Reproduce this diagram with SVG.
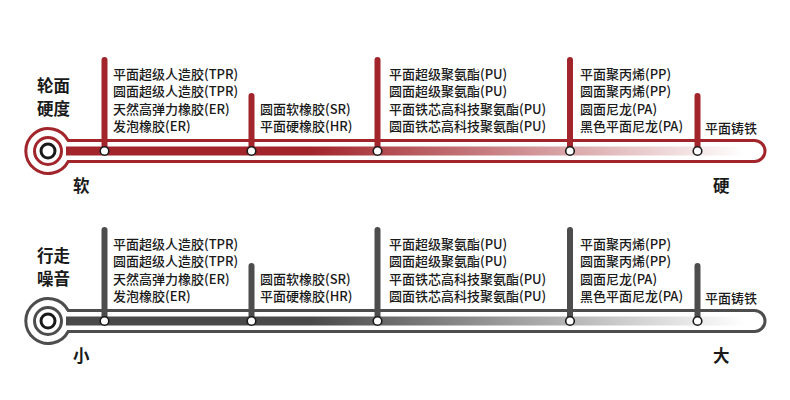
<svg xmlns="http://www.w3.org/2000/svg" width="790" height="400" viewBox="0 0 790 400">
<defs>
<style>
.lbl{font-family:"Noto Sans CJK SC","Noto Sans",sans-serif;font-size:13px;font-weight:500;fill:#1a1a1a}
.big{font-family:"Noto Sans CJK SC","Noto Sans",sans-serif;font-size:16.5px;font-weight:700;fill:#1a1a1a}
.node{fill:#ffffff;stroke:#1a1a1a;stroke-width:1.6}
.tube{fill:#ffffff;stroke-width:3}
.ring{fill:none;stroke-width:3}
.stem{stroke-width:6;stroke-linecap:round;fill:none}
.red .tube,.red .ring,.red .stem{stroke:#a1252b}
.gray .tube,.gray .ring,.gray .stem{stroke:#4d4d4d}
</style>
<linearGradient id="gRed" gradientUnits="userSpaceOnUse" x1="310" y1="0" x2="745" y2="0">
<stop offset="0" stop-color="#a1252b"/>
<stop offset="1" stop-color="#ffffff"/>
</linearGradient>
<linearGradient id="gGray" gradientUnits="userSpaceOnUse" x1="310" y1="0" x2="745" y2="0">
<stop offset="0" stop-color="#4a4a4a"/>
<stop offset="1" stop-color="#ffffff"/>
</linearGradient>
</defs>
<rect width="790" height="400" fill="#ffffff"/>

<!-- Scale 1: hardness -->
<g id="scale-hardness" class="red">
<g id="connectors-hardness">
<path class="tube" d="M68.2,140.5 L754.5,140.5 A10.5,10.5 0 0 1 754.5,161.5 L68.2,161.5 A22.5,22.5 0 1 1 68.2,140.5 Z"/>
<rect x="66" y="146.5" width="690" height="9" fill="url(#gRed)"/>
<line class="stem" x1="104.5" y1="60" x2="104.5" y2="151"/>
<line class="stem" x1="251.5" y1="96" x2="251.5" y2="151"/>
<line class="stem" x1="377.5" y1="60" x2="377.5" y2="151"/>
<line class="stem" x1="570" y1="60" x2="570" y2="151"/>
<line class="stem" x1="697.5" y1="96" x2="697.5" y2="151"/>
</g>
<g id="start-hardness">
<circle class="ring" cx="48" cy="151" r="13.5"/>
<circle cx="48" cy="151" r="7" fill="none" stroke="#1a1a1a" stroke-width="3"/>
<text class="big" x="37" y="92">轮面</text>
<text class="big" x="37" y="115">硬度</text>
<text class="big" x="73" y="192">软</text>
</g>
<g id="h-station-1">
<circle class="node" cx="104.5" cy="151" r="4.3"/>
<text class="lbl" x="113" y="78.5">平面超级人造胶(TPR)</text>
<text class="lbl" x="113" y="96">圆面超级人造胶(TPR)</text>
<text class="lbl" x="113" y="113.5">天然高弹力橡胶(ER)</text>
<text class="lbl" x="113" y="131">发泡橡胶(ER)</text>
</g>
<g id="h-station-2">
<circle class="node" cx="251.5" cy="151" r="4.3"/>
<text class="lbl" x="260" y="113.5">圆面软橡胶(SR)</text>
<text class="lbl" x="260" y="131">平面硬橡胶(HR)</text>
</g>
<g id="h-station-3">
<circle class="node" cx="377.5" cy="151" r="4.3"/>
<text class="lbl" x="389" y="78.5">平面超级聚氨酯(PU)</text>
<text class="lbl" x="389" y="96">圆面超级聚氨酯(PU)</text>
<text class="lbl" x="389" y="113.5">平面铁芯高科技聚氨酯(PU)</text>
<text class="lbl" x="389" y="131">圆面铁芯高科技聚氨酯(PU)</text>
</g>
<g id="h-station-4">
<circle class="node" cx="570" cy="151" r="4.3"/>
<text class="lbl" x="580" y="78.5">平面聚丙烯(PP)</text>
<text class="lbl" x="580" y="96">圆面聚丙烯(PP)</text>
<text class="lbl" x="580" y="113.5">圆面尼龙(PA)</text>
<text class="lbl" x="580" y="131">黑色平面尼龙(PA)</text>
</g>
<g id="h-station-5">
<circle class="node" cx="697.5" cy="151" r="4.3"/>
<text class="lbl" x="705" y="133">平面铸铁</text>
<text class="big" x="713" y="192">硬</text>
</g>
</g>

<!-- Scale 2: noise -->
<g id="scale-noise" class="gray">
<g id="connectors-noise">
<path class="tube" d="M68.2,310.5 L754.5,310.5 A10.5,10.5 0 0 1 754.5,331.5 L68.2,331.5 A22.5,22.5 0 1 1 68.2,310.5 Z"/>
<rect x="66" y="316.5" width="690" height="9" fill="url(#gGray)"/>
<line class="stem" x1="104.5" y1="230" x2="104.5" y2="321"/>
<line class="stem" x1="251.5" y1="266" x2="251.5" y2="321"/>
<line class="stem" x1="377.5" y1="230" x2="377.5" y2="321"/>
<line class="stem" x1="570" y1="230" x2="570" y2="321"/>
<line class="stem" x1="697.5" y1="266" x2="697.5" y2="321"/>
</g>
<g id="start-noise">
<circle class="ring" cx="48" cy="321" r="13.5"/>
<circle cx="48" cy="321" r="7" fill="none" stroke="#1a1a1a" stroke-width="3"/>
<text class="big" x="37" y="262">行走</text>
<text class="big" x="37" y="285">噪音</text>
<text class="big" x="73" y="362">小</text>
</g>
<g id="n-station-1">
<circle class="node" cx="104.5" cy="321" r="4.3"/>
<text class="lbl" x="113" y="248.5">平面超级人造胶(TPR)</text>
<text class="lbl" x="113" y="266">圆面超级人造胶(TPR)</text>
<text class="lbl" x="113" y="283.5">天然高弹力橡胶(ER)</text>
<text class="lbl" x="113" y="301">发泡橡胶(ER)</text>
</g>
<g id="n-station-2">
<circle class="node" cx="251.5" cy="321" r="4.3"/>
<text class="lbl" x="260" y="283.5">圆面软橡胶(SR)</text>
<text class="lbl" x="260" y="301">平面硬橡胶(HR)</text>
</g>
<g id="n-station-3">
<circle class="node" cx="377.5" cy="321" r="4.3"/>
<text class="lbl" x="389" y="248.5">平面超级聚氨酯(PU)</text>
<text class="lbl" x="389" y="266">圆面超级聚氨酯(PU)</text>
<text class="lbl" x="389" y="283.5">平面铁芯高科技聚氨酯(PU)</text>
<text class="lbl" x="389" y="301">圆面铁芯高科技聚氨酯(PU)</text>
</g>
<g id="n-station-4">
<circle class="node" cx="570" cy="321" r="4.3"/>
<text class="lbl" x="580" y="248.5">平面聚丙烯(PP)</text>
<text class="lbl" x="580" y="266">圆面聚丙烯(PP)</text>
<text class="lbl" x="580" y="283.5">圆面尼龙(PA)</text>
<text class="lbl" x="580" y="301">黑色平面尼龙(PA)</text>
</g>
<g id="n-station-5">
<circle class="node" cx="697.5" cy="321" r="4.3"/>
<text class="lbl" x="705" y="303">平面铸铁</text>
<text class="big" x="713" y="362">大</text>
</g>
</g>
</svg>
